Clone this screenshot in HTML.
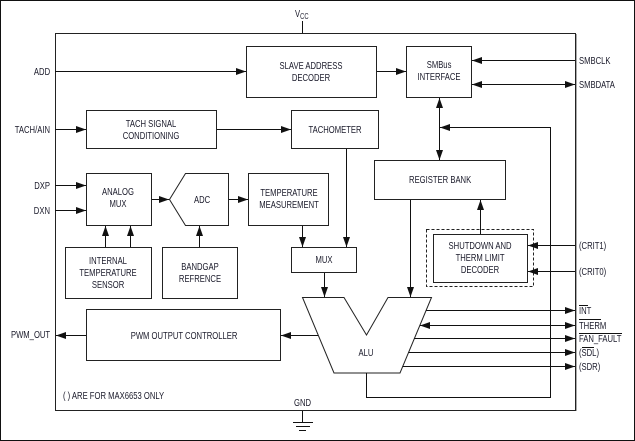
<!DOCTYPE html>
<html><head><style>
body{margin:0;background:#fff}
svg{display:block}
text{font-family:"Liberation Sans",sans-serif;font-size:10.5px;fill:#1a1a2a;transform-box:fill-box;transform:scaleX(0.73);transform-origin:left center}
text[text-anchor="middle"]{transform-origin:center center}
text[text-anchor="end"]{transform-origin:right center}
.b{fill:#fff;stroke:#222;stroke-width:1}
.l{stroke:#111;stroke-width:1;fill:none}
</style></head><body>
<svg width="635" height="441" viewBox="0 0 635 441" xmlns="http://www.w3.org/2000/svg">
<defs>
<marker id="a" markerWidth="10" markerHeight="8" refX="10" refY="4" orient="auto-start-reverse" markerUnits="userSpaceOnUse"><path d="M0,0.5 L10,4 L0,7.5z" fill="#111"/></marker>
</defs>
<rect x="0.5" y="0.5" width="634" height="440" fill="#fff" stroke="#111"/>
<rect x="55.5" y="33.5" width="520" height="377" fill="#fff" stroke="#222"/>
<line x1="576.5" y1="34" x2="576.5" y2="411" stroke="#aaa"/>
<text x="295" y="17">V<tspan font-size="8" dy="2">CC</tspan></text>
<line class="l" x1="302.5" y1="21" x2="302.5" y2="33"/>
<text x="294" y="406">GND</text>
<line class="l" x1="302.5" y1="411" x2="302.5" y2="422"/>
<line class="l" x1="293" y1="422.5" x2="313" y2="422.5"/>
<line class="l" x1="296" y1="426.5" x2="310" y2="426.5"/>
<line class="l" x1="299" y1="430.5" x2="306" y2="430.5"/>

<rect class="b" x="246.5" y="46.5" width="130" height="51"/>
<text x="311" y="69" text-anchor="middle">SLAVE ADDRESS</text><text x="311" y="81" text-anchor="middle">DECODER</text>
<rect class="b" x="406.5" y="46.5" width="65" height="51"/>
<text x="439" y="68" text-anchor="middle">SMBus</text><text x="439" y="80" text-anchor="middle">INTERFACE</text>
<rect class="b" x="86.5" y="110.5" width="130" height="38"/>
<text x="151" y="127" text-anchor="middle">TACH SIGNAL</text><text x="151" y="139" text-anchor="middle">CONDITIONING</text>
<rect class="b" x="291.5" y="110.5" width="87" height="38"/>
<text x="335" y="133" text-anchor="middle">TACHOMETER</text>
<rect class="b" x="374.5" y="160.5" width="131" height="39"/>
<text x="440" y="183" text-anchor="middle">REGISTER BANK</text>
<rect class="b" x="86.5" y="173.5" width="65" height="52"/>
<text x="118" y="195" text-anchor="middle">ANALOG</text><text x="118" y="207" text-anchor="middle">MUX</text>
<path class="b" d="M185.5,173.5 L228.5,173.5 L228.5,225.5 L185.5,225.5 L169.5,199.5 Z"/>
<text x="202" y="203" text-anchor="middle">ADC</text>
<rect class="b" x="248.5" y="173.5" width="80" height="52"/>
<text x="289" y="196" text-anchor="middle">TEMPERATURE</text><text x="289" y="208" text-anchor="middle">MEASUREMENT</text>
<rect class="b" x="65.5" y="247.5" width="86" height="51"/>
<text x="108" y="264" text-anchor="middle">INTERNAL</text><text x="108" y="276" text-anchor="middle">TEMPERATURE</text><text x="108" y="288" text-anchor="middle">SENSOR</text>
<rect class="b" x="162.5" y="247.5" width="75" height="51"/>
<text x="200" y="270" text-anchor="middle">BANDGAP</text><text x="200" y="282" text-anchor="middle">REFRENCE</text>
<rect class="b" x="291.5" y="247.5" width="65" height="25"/>
<text x="324" y="263" text-anchor="middle">MUX</text>
<rect x="426.5" y="229.5" width="107" height="57" fill="none" stroke="#222" stroke-dasharray="3,2"/>
<rect class="b" x="433.5" y="234.5" width="94" height="48"/>
<text x="480" y="249" text-anchor="middle">SHUTDOWN AND</text><text x="480" y="261" text-anchor="middle">THERM LIMIT</text><text x="480" y="273" text-anchor="middle">DECODER</text>
<rect class="b" x="86.5" y="309.5" width="194" height="51"/>
<text x="184" y="339" text-anchor="middle">PWM OUTPUT CONTROLLER</text>
<path class="b" d="M302.5,297.5 L344,297.5 L366.5,335 L388,297.5 L431.5,297.5 L400,373 L334,373 Z"/>
<text x="366" y="356" text-anchor="middle">ALU</text>

<text x="50" y="75" text-anchor="end">ADD</text>
<text x="50" y="133" text-anchor="end">TACH/AIN</text>
<text x="50" y="189" text-anchor="end">DXP</text>
<text x="50" y="214" text-anchor="end">DXN</text>
<text x="50" y="338" text-anchor="end">PWM_OUT</text>
<text x="579" y="64">SMBCLK</text>
<text x="579" y="88">SMBDATA</text>
<text x="579" y="249">(CRIT1)</text>
<text x="579" y="275">(CRIT0)</text>
<text x="579" y="314">INT</text>
<text x="579" y="329">THERM</text>
<text x="579" y="342">FAN_FAULT</text>
<text x="579" y="356">(SDL)</text>
<text x="579" y="370">(SDR)</text>
<g class="l">
<line x1="579" y1="305.5" x2="588" y2="305.5"/>
<line x1="579" y1="319.5" x2="601" y2="319.5"/>
<line x1="579" y1="333.5" x2="622" y2="333.5"/>
<line x1="582" y1="347.5" x2="594" y2="347.5"/>
</g>
<text x="63" y="399">( ) ARE FOR MAX6653 ONLY</text>

<g class="l">
<line x1="55" y1="71.5" x2="246" y2="71.5" marker-end="url(#a)"/>
<line x1="377" y1="71.5" x2="406" y2="71.5" marker-end="url(#a)"/>
<line x1="575" y1="60.5" x2="472" y2="60.5" marker-end="url(#a)"/>
<line x1="472" y1="84.5" x2="575" y2="84.5" marker-start="url(#a)" marker-end="url(#a)"/>
<line x1="439.5" y1="98" x2="439.5" y2="160" marker-start="url(#a)" marker-end="url(#a)"/>
<polyline points="366.5,373 366.5,397.5 550.5,397.5 550.5,127.5 440,127.5" marker-end="url(#a)"/>
<line x1="55" y1="129.5" x2="86" y2="129.5" marker-end="url(#a)"/>
<line x1="217" y1="129.5" x2="291" y2="129.5" marker-end="url(#a)"/>
<line x1="346.5" y1="149" x2="346.5" y2="247" marker-end="url(#a)"/>
<line x1="55" y1="185.5" x2="86" y2="185.5" marker-end="url(#a)"/>
<line x1="55" y1="210.5" x2="86" y2="210.5" marker-end="url(#a)"/>
<line x1="152" y1="199.5" x2="169" y2="199.5" marker-end="url(#a)"/>
<line x1="229" y1="199.5" x2="248" y2="199.5" marker-end="url(#a)"/>
<line x1="105.5" y1="247" x2="105.5" y2="226" marker-end="url(#a)"/>
<line x1="130.5" y1="247" x2="130.5" y2="226" marker-end="url(#a)"/>
<line x1="199.5" y1="247" x2="199.5" y2="226" marker-end="url(#a)"/>
<line x1="302.5" y1="226" x2="302.5" y2="247" marker-end="url(#a)"/>
<line x1="324.5" y1="273" x2="324.5" y2="297" marker-end="url(#a)"/>
<line x1="410.5" y1="200" x2="410.5" y2="297" marker-end="url(#a)"/>
<line x1="480.5" y1="234" x2="480.5" y2="200" marker-end="url(#a)"/>
<line x1="575" y1="245.5" x2="528" y2="245.5" marker-end="url(#a)"/>
<line x1="575" y1="271.5" x2="528" y2="271.5" marker-end="url(#a)"/>
<line x1="426" y1="310.5" x2="575" y2="310.5" marker-end="url(#a)"/>
<line x1="420" y1="325.5" x2="575" y2="325.5" marker-start="url(#a)" marker-end="url(#a)"/>
<line x1="414" y1="338.5" x2="575" y2="338.5" marker-end="url(#a)"/>
<line x1="408.5" y1="352.5" x2="575" y2="352.5" marker-end="url(#a)"/>
<line x1="402.5" y1="366.5" x2="575" y2="366.5" marker-end="url(#a)"/>
<line x1="318" y1="335.5" x2="281" y2="335.5" marker-end="url(#a)"/>
<line x1="86" y1="335.5" x2="56" y2="335.5" marker-end="url(#a)"/>
</g>
</svg>
</body></html>
